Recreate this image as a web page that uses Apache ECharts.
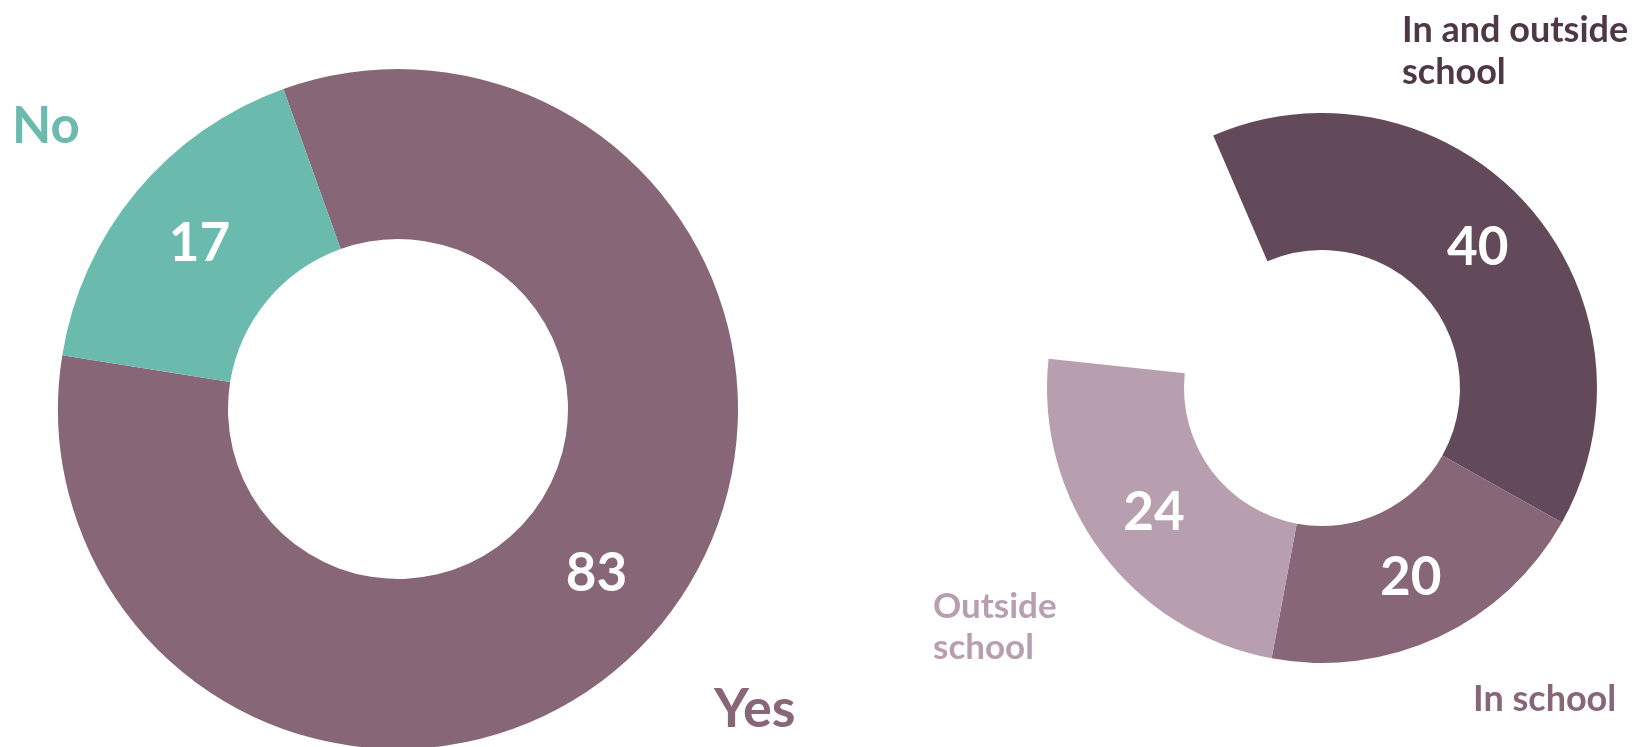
<!DOCTYPE html>
<html>
<head>
<meta charset="utf-8">
<title>Donut charts</title>
<script src="https://cdn.jsdelivr.net/npm/echarts@6/dist/echarts.min.js"></script>
<style>
  html, body { margin: 0; padding: 0; background: #ffffff; }
  #chart { width: 1635px; height: 747px; }
</style>
</head>
<body>
<div id="chart"></div>
<script>
// Left donut: yes / no split
const leftCategories = ['Yes', 'No'];
const leftValues = [83, 17];
const leftColors = ['#876677', '#6bbaae'];

// Right donut: where it happens, followed by an unfilled gap
const rightCategories = ['In and outside\nschool', 'In school', 'Outside\nschool'];
const rightValues = [40, 20, 24];
const rightGap = 17;
const rightColors = ['#634a5b', '#876677', '#b89fb0'];
const rightLabelColors = ['#4f3846', '#876677', '#b89fb0'];

const FONT = 'Lato, "Open Sans", sans-serif';

const valueLabel = {
  show: true,
  position: 'inside',
  formatter: '{c}',
  color: '#ffffff',
  fontFamily: FONT,
  fontWeight: 'bold',
  fontSize: 53,
  padding: [16, 0, 0, 0]
};

const leftData = leftValues.map((v, i) => ({
  name: leftCategories[i],
  value: v,
  itemStyle: { color: leftColors[i] }
}));

const rightData = rightValues.map((v, i) => ({
  name: rightCategories[i],
  value: v,
  itemStyle: { color: rightColors[i] }
}));
rightData.push({
  name: 'gap',
  value: rightGap,
  itemStyle: { color: 'rgba(0,0,0,0)' },
  label: { show: false }
});

function catText(text, x, y, color, size) {
  return {
    type: 'text',
    left: x,
    top: y,
    style: {
      text: text,
      fill: color,
      font: 'bold ' + size + 'px ' + FONT,
      lineHeight: Math.round(size * 1.17)
    }
  };
}

const chart = echarts.init(document.getElementById('chart'), null, { renderer: 'canvas' });
chart.setOption({
  animation: false,
  backgroundColor: '#ffffff',
  graphic: [
    catText(leftCategories[1], 12, 97, leftColors[1], 51),
    catText(leftCategories[0], 714, 678, leftColors[0], 54),
    catText(rightCategories[0], 1402, 9, rightLabelColors[0], 36),
    catText(rightCategories[2], 933, 586, rightLabelColors[2], 35),
    catText(rightCategories[1], 1473, 678, rightLabelColors[1], 36)
  ],
  series: [
    {
      type: 'pie',
      center: [398, 409],
      radius: [170, 340],
      startAngle: 109.7,
      clockwise: true,
      avoidLabelOverlap: false,
      silent: true,
      label: valueLabel,
      labelLine: { show: false },
      emphasis: { disabled: true },
      data: leftData
    },
    {
      type: 'pie',
      center: [1322, 388],
      radius: [138, 275],
      startAngle: 113.3,
      clockwise: true,
      avoidLabelOverlap: false,
      silent: true,
      label: valueLabel,
      labelLine: { show: false },
      emphasis: { disabled: true },
      data: rightData
    }
  ]
});
</script>
</body>
</html>
